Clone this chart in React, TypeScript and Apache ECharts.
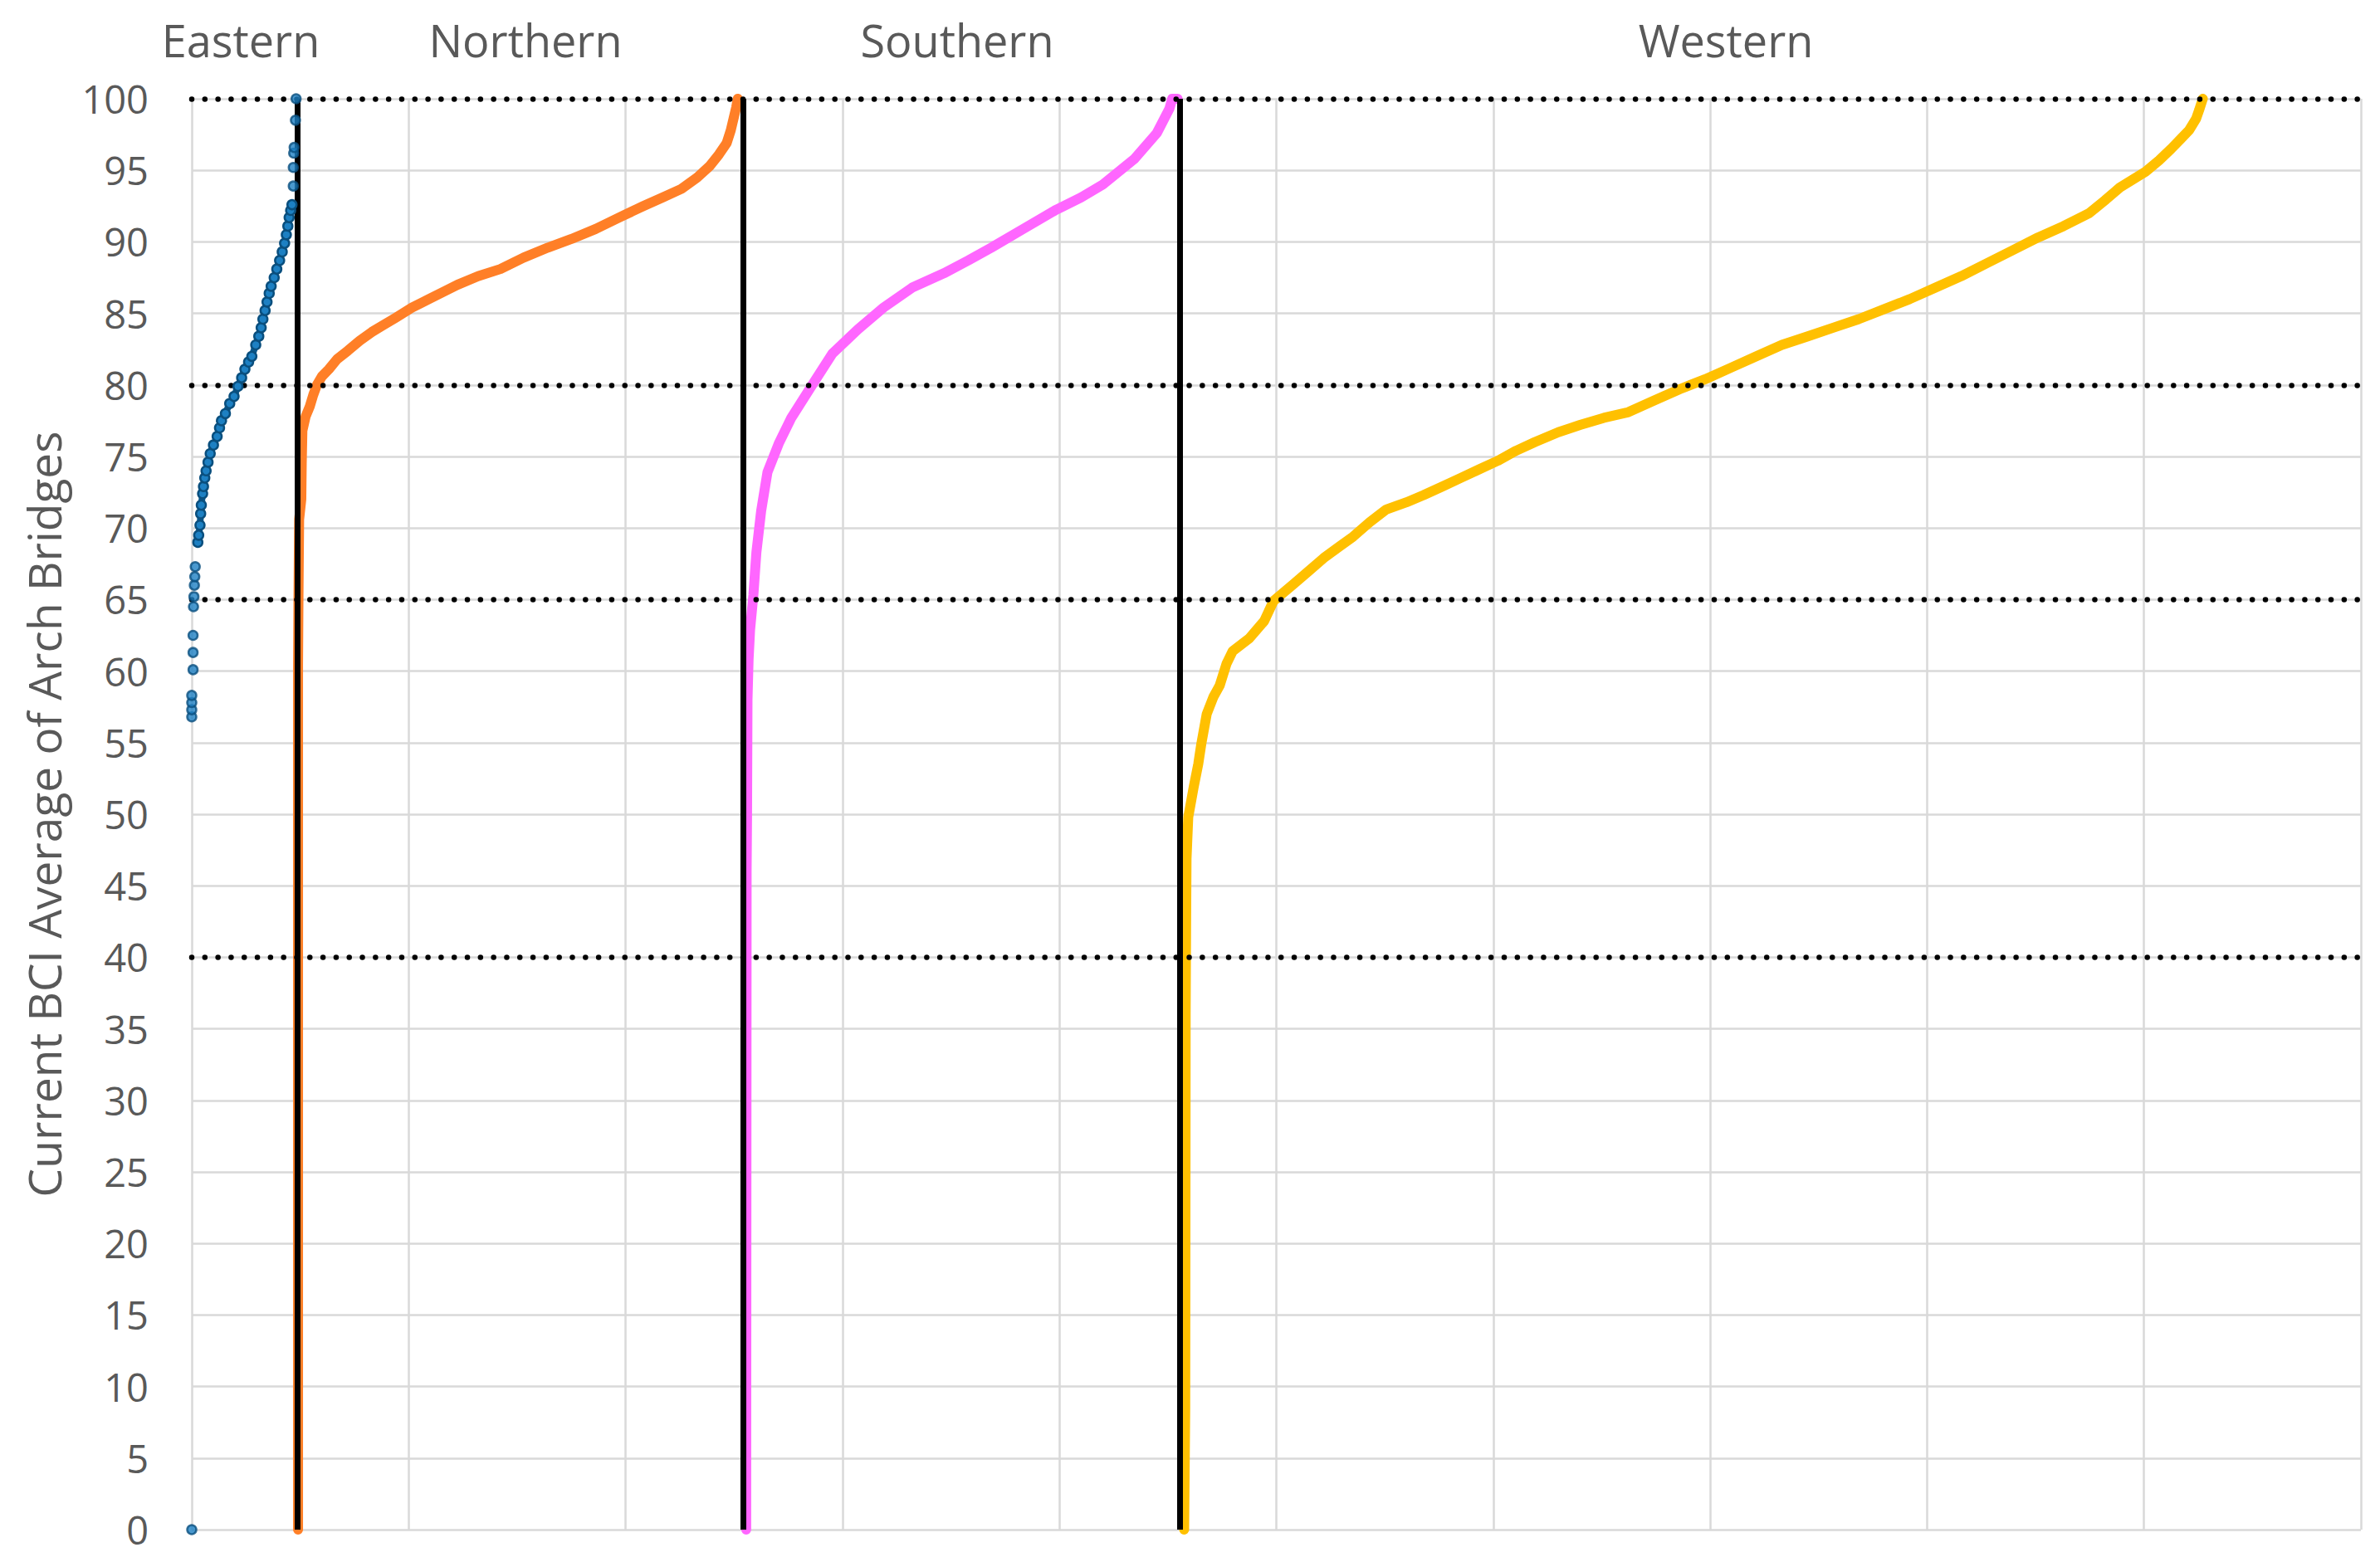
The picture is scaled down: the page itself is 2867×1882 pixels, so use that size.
import React, { useEffect, useRef } from "react";
import * as echarts from "echarts";

// ---------- data ----------
const REGIONS = ["Eastern", "Northern", "Southern", "Western"];
const REGION_BOUNDARIES = [488, 2541, 4557];
const THRESHOLDS = [40, 65, 80, 100];
const X_MIN = 0;
const X_MAX = 10000;
const X_INTERVAL = 1000;
const Y_MIN = 0;
const Y_MAX = 100;
const Y_INTERVAL = 5;
const Y_AXIS_TITLE = "Current BCI Average of Arch Bridges";

const EASTERN_LOW: [number, number][] = [
  [0, 0], [0, 56.8], [0, 57.3], [0, 57.8], [0, 58.3], [6, 60.1], [6, 61.3], [6, 62.5],
  [8, 64.5], [10, 65.2], [12, 66.0], [14, 66.6], [16, 67.3],
];
const EASTERN_CURVE: [number, number][] = [
  [28, 69.0], [32, 69.5], [38, 70.2], [41, 71.0], [44, 71.6], [50, 72.4], [54, 72.9],
  [60, 73.5], [66, 74.0], [75, 74.6], [85, 75.2], [100, 75.8], [117, 76.4], [128, 77.0],
  [137, 77.5], [155, 78.0], [175, 78.7], [195, 79.2], [213, 79.9], [230, 80.5], [245, 81.1],
  [262, 81.6], [277, 82.0], [295, 82.8], [309, 83.4], [320, 84.0], [328, 84.6], [338, 85.2],
  [347, 85.8], [357, 86.4], [366, 86.9], [380, 87.5], [392, 88.1], [405, 88.7], [417, 89.3],
  [428, 89.9], [436, 90.5], [443, 91.1], [449, 91.7], [456, 92.2], [462, 92.6],
];
const EASTERN_TOP: [number, number][] = [
  [468, 93.9], [468, 95.2], [470, 96.2], [472, 96.6], [478, 98.5], [481, 100],
];
const NORTHERN: [number, number][] = [
  [490, 0], [490, 60.4], [492, 65.3], [495, 70.6], [505, 72.0], [507, 74.5], [510, 76.8],
  [525, 77.8], [544, 78.5], [560, 79.3], [577, 80.0], [600, 80.6], [632, 81.1], [670, 81.8],
  [720, 82.4], [775, 83.1], [830, 83.7], [885, 84.2], [940, 84.7], [1015, 85.4], [1093, 86.0],
  [1160, 86.5], [1225, 87.0], [1320, 87.6], [1423, 88.1], [1530, 88.9], [1642, 89.6],
  [1750, 90.2], [1862, 90.9], [1970, 91.7], [2082, 92.5], [2170, 93.1], [2257, 93.7],
  [2330, 94.5], [2388, 95.3], [2430, 96.1], [2466, 96.9], [2485, 97.8], [2499, 98.7],
  [2510, 99.4], [2517, 100],
];
const SOUTHERN: [number, number][] = [
  [2556, 0], [2558, 46], [2560, 50], [2562, 58], [2567, 60.8], [2574, 62.9], [2589, 65.3],
  [2603, 68.3], [2625, 71.2], [2654, 73.9], [2706, 75.9], [2764, 77.7], [2852, 79.8],
  [2954, 82.2], [3072, 83.9], [3189, 85.4], [3321, 86.8], [3467, 87.8], [3580, 88.7],
  [3687, 89.6], [3833, 90.9], [3980, 92.2], [4100, 93.1], [4200, 94.0], [4346, 95.8],
  [4449, 97.6], [4507, 99.3], [4520, 100], [4545, 100],
];
const WESTERN: [number, number][] = [
  [4575, 0], [4580, 8.5], [4582, 36], [4584, 42], [4586, 46.9], [4594, 49.8], [4619, 51.9],
  [4640, 53.5], [4654, 54.9], [4679, 57.0], [4710, 58.2], [4739, 59.0], [4770, 60.5],
  [4799, 61.4], [4876, 62.3], [4944, 63.5], [4987, 64.9], [5081, 66.1], [5150, 67.0],
  [5218, 67.9], [5290, 68.7], [5354, 69.4], [5430, 70.4], [5507, 71.3], [5600, 71.8],
  [5679, 72.3], [5765, 72.9], [5850, 73.5], [5935, 74.1], [6021, 74.7], [6105, 75.4],
  [6191, 76.0], [6300, 76.7], [6400, 77.2], [6510, 77.7], [6623, 78.1], [6740, 78.9],
  [6859, 79.7], [6977, 80.4], [7095, 81.2], [7213, 82.0], [7331, 82.8], [7450, 83.4],
  [7567, 84.0], [7685, 84.6], [7803, 85.3], [7920, 86.0], [8039, 86.8], [8157, 87.6],
  [8275, 88.5], [8393, 89.4], [8511, 90.3], [8629, 91.1], [8747, 92.0], [8820, 92.9],
  [8889, 93.8], [9007, 94.9], [9070, 95.7], [9125, 96.5], [9170, 97.2], [9208, 97.8],
  [9240, 98.6], [9254, 99.2], [9271, 100],
];

// ---------- layout / style ----------
const W = 2867;
const H = 1882;
const FONT = "'Open Sans', 'Noto Sans', sans-serif";
const TEXT_COLOR = "#595959";
const GRID_COLOR = "#d9d9d9";
const TITLE_X = [290, 633, 1153, 2079];

const lineSeries = (name: string, data: [number, number][], color: string) => ({
  name,
  type: "line",
  data,
  showSymbol: false,
  symbol: "none",
  smooth: false,
  z: 3,
  lineStyle: { color, width: 12, cap: "round", join: "round" },
  itemStyle: { color },
  emphasis: { disabled: true },
});

export default function App() {
  const ref = useRef<HTMLDivElement>(null);
  useEffect(() => {
    document.body.style.margin = "0";
    document.body.style.overflow = "hidden";
    if (!ref.current) return;
    const chart = echarts.init(ref.current, undefined, { renderer: "svg" });
    const eastItem = { color: "#1D80C3", borderColor: "#0A4F7E", borderWidth: 2.5 };
    chart.setOption({
      animation: false,
      backgroundColor: "#ffffff",
      textStyle: { fontFamily: FONT },
      grid: { left: 231, right: W - 2844, top: 119, bottom: H - 1843, containLabel: false },
      xAxis: {
        type: "value",
        min: X_MIN,
        max: X_MAX,
        interval: X_INTERVAL,
        axisLine: { show: false },
        axisTick: { show: false },
        axisLabel: { show: false },
        splitLine: { show: true, lineStyle: { color: GRID_COLOR, width: 2.5 } },
      },
      yAxis: {
        type: "value",
        min: Y_MIN,
        max: Y_MAX,
        interval: Y_INTERVAL,
        axisLine: { show: false },
        axisTick: { show: false },
        axisLabel: { fontSize: 47, color: TEXT_COLOR, fontFamily: FONT, margin: 52 },
        splitLine: { show: true, lineStyle: { color: GRID_COLOR, width: 2.5 } },
      },
      graphic: [
        ...REGIONS.map((r, i) => ({
          type: "text",
          x: TITLE_X[i],
          y: 48,
          style: {
            text: r,
            fontSize: 54,
            fontFamily: FONT,
            fill: TEXT_COLOR,
            align: "center",
            verticalAlign: "middle",
          },
        })),
        {
          type: "text",
          x: 52,
          y: 981,
          rotation: Math.PI / 2,
          style: {
            text: Y_AXIS_TITLE,
            fontSize: 55,
            fontFamily: FONT,
            fill: TEXT_COLOR,
            align: "center",
            verticalAlign: "middle",
          },
        },
      ],
      series: [
        lineSeries(REGIONS[1], NORTHERN, "#FF7F27"),
        lineSeries(REGIONS[2], SOUTHERN, "#FF66FF"),
        lineSeries(REGIONS[3], WESTERN, "#FFC000"),
        {
          name: "dividers",
          type: "line",
          data: [],
          markLine: {
            silent: true,
            symbol: ["none", "none"],
            label: { show: false },
            lineStyle: { color: "#000000", width: 7, type: "solid" },
            emphasis: { disabled: true },
            data: REGION_BOUNDARIES.map((v) => ({ xAxis: v })),
          },
        },
        {
          name: "thresholds",
          type: "line",
          data: [],
          markLine: {
            silent: true,
            symbol: ["none", "none"],
            label: { show: false },
            lineStyle: { color: "#000000", width: 6.5, type: [0.01, 15.8], cap: "round" },
            emphasis: { disabled: true },
            data: THRESHOLDS.map((v) => ({ yAxis: v })),
          },
        },
        {
          name: REGIONS[0],
          type: "line",
          data: EASTERN_CURVE,
          z: 6,
          symbol: "circle",
          symbolSize: 11,
          showAllSymbol: true,
          lineStyle: { color: "#0B5A8E", width: 8, join: "round" },
          itemStyle: eastItem,
          emphasis: { disabled: true },
        },
        {
          name: REGIONS[0] + " (outliers)",
          type: "scatter",
          data: [...EASTERN_LOW, ...EASTERN_TOP],
          z: 6,
          symbol: "circle",
          symbolSize: 11,
          itemStyle: eastItem,
          emphasis: { disabled: true },
        },
      ],
    });
    return () => chart.dispose();
  }, []);
  return <div ref={ref} style={{ width: W, height: H }} />;
}
